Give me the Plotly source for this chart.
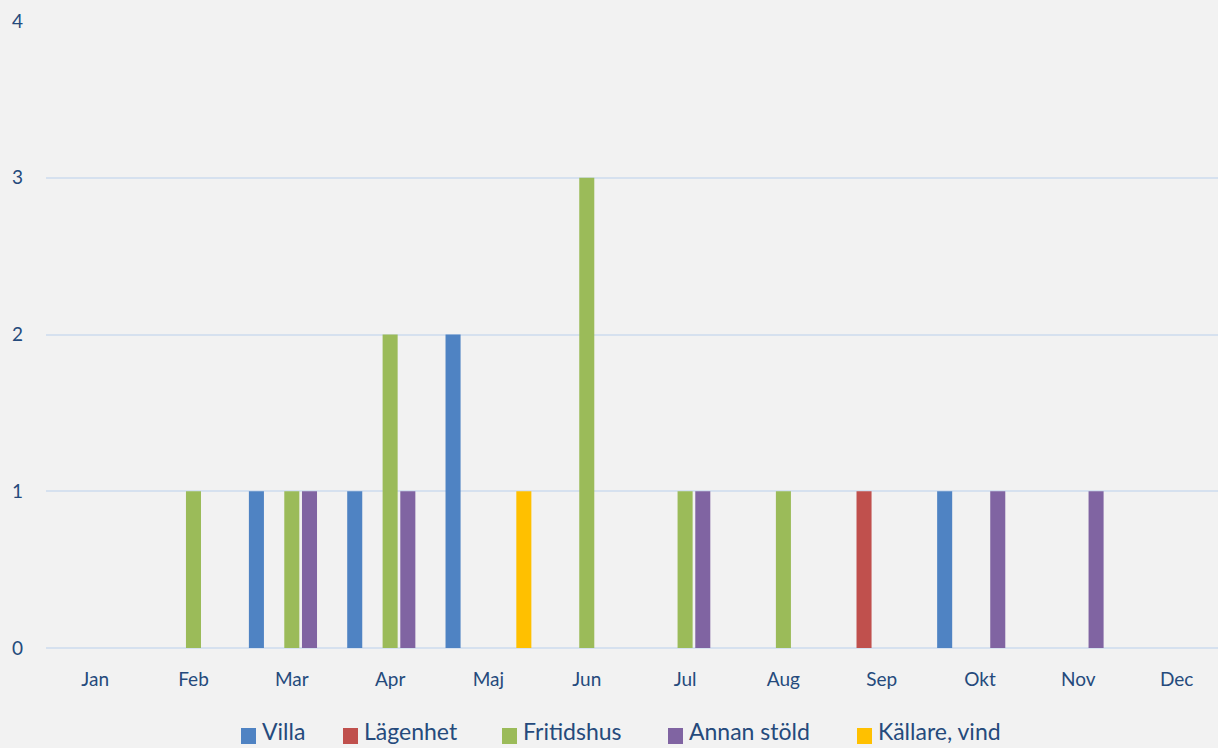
import plotly.graph_objects as go

months = ["Jan", "Feb", "Mar", "Apr", "Maj", "Jun", "Jul", "Aug", "Sep", "Okt", "Nov", "Dec"]
villa      = [0, 0, 1, 1, 2, 0, 0, 0, 0, 1, 0, 0]
lagenhet   = [0, 0, 0, 0, 0, 0, 0, 0, 1, 0, 0, 0]
fritidshus = [0, 1, 1, 2, 0, 3, 1, 1, 0, 0, 0, 0]
annan      = [0, 0, 1, 1, 0, 0, 1, 0, 0, 1, 1, 0]
kallare    = [0, 0, 0, 0, 1, 0, 0, 0, 0, 0, 0, 0]
y_ticks = [0, 1, 2, 3, 4]

series_names = ["Villa", "Lägenhet", "Fritidshus", "Annan stöld", "Källare, vind"]
series_values = [villa, lagenhet, fritidshus, annan, kallare]
series_colors = ["#4f83c3", "#c0504d", "#9bbb59", "#8064a2", "#ffc000"]

# layout constants (pixels)
W, H = 1218, 748
PL, PR, PT, PB = 46, 0, 21, 100
legend_box_x = [241, 343, 502, 668, 857]

text_color = "#254a7c"
font_family = "Lato, 'Noto Sans', sans-serif"

fig = go.Figure()
for name, vals, col in zip(series_names, series_values, series_colors):
    fig.add_trace(go.Bar(x=months, y=vals, name=name, showlegend=False,
                         marker=dict(color=col, line=dict(width=0))))

plot_w = W - PL - PR
plot_h = H - PT - PB

def px_to_xpaper(px):
    return (px - PL) / plot_w

def py_to_ypaper(py):
    return (H - PB - py) / plot_h

shapes = []
annotations = []
for name, col, bx in zip(series_names, series_colors, legend_box_x):
    shapes.append(dict(type="rect", xref="paper", yref="paper",
                       x0=px_to_xpaper(bx), x1=px_to_xpaper(bx + 15),
                       y0=py_to_ypaper(744), y1=py_to_ypaper(728),
                       fillcolor=col, line=dict(width=0)))
    annotations.append(dict(xref="paper", yref="paper", x=px_to_xpaper(bx + 20),
                            y=py_to_ypaper(731), xanchor="left", yanchor="middle",
                            text=name, showarrow=False, borderpad=0,
                            font=dict(size=23, color=text_color, family=font_family)))

fig.update_layout(
    width=W, height=H,
    paper_bgcolor="#f2f2f2", plot_bgcolor="#f2f2f2",
    margin=dict(l=PL, r=PR, t=PT, b=PB),
    barmode="group", bargap=0.1, bargroupgap=0.15,
    font=dict(family=font_family, color=text_color, size=19),
    showlegend=False,
    hovermode=False,
    shapes=shapes,
    annotations=annotations,
    xaxis=dict(range=[-0.5, 11.42], showgrid=False, zeroline=False, showline=False,
               ticks="", ticklabelstandoff=18, tickfont=dict(size=19, color=text_color)),
    yaxis=dict(range=[0, 4], tickvals=y_ticks, showgrid=True, gridcolor="#d6e1ef", gridwidth=2,
               zeroline=True, zerolinecolor="#d6e1ef", zerolinewidth=2, showline=False,
               ticks="", ticklabelstandoff=22, tickfont=dict(size=19, color=text_color)),
)

fig.write_html("out.html", config={"displayModeBar": False},
               post_script="document.body.style.margin='0';document.body.style.overflow='hidden';")
